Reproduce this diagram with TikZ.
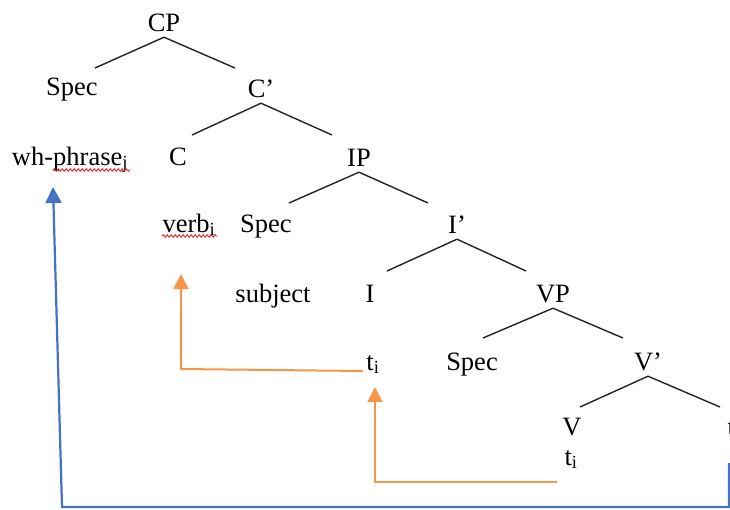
\documentclass[tikz,border=0pt]{standalone}
\usepackage{fontspec}
\setmainfont{Liberation Serif}
\usetikzlibrary{arrows.meta,decorations.pathmorphing}
\definecolor{treegray}{RGB}{35,35,35}
\definecolor{movorange}{RGB}{247,150,70}
\definecolor{movblue}{RGB}{68,114,196}
\definecolor{spellred}{RGB}{230,40,40}
\begin{document}
\begin{tikzpicture}[x=1pt,y=-1pt,
  lbl/.style={anchor=base, inner xsep=0pt, inner ysep=6pt, text depth=0pt,
              font=\fontsize{26.5}{30}\selectfont},
  branch/.style={draw=treegray, line width=1.4pt},
  orangemove/.style={draw=movorange, line width=2pt,
              -{Triangle[length=15pt,width=15pt]}},
  bluemove/.style={draw=movblue, line width=2.2pt,
              -{Triangle[length=16pt,width=16pt]}},
  spell/.style={draw=spellred, line width=0.9pt,
              decorate, decoration={snake, segment length=4pt, amplitude=1.3pt}}]
\useasboundingbox (0,0) rectangle (730,509);

% tree labels
\node[lbl] (CP)    at (164,31)  {CP};
\node[lbl] (SpecC) at (72,95)   {Spec};
\node[lbl] (Cbar)  at (261,97)  {C’};
\node[lbl] (wh)    at (70,165)  {wh-phrase\textsubscript{j}};
\node[lbl] (C)     at (178,165) {C};
\node[lbl] (IP)    at (359,166) {IP};
\node[lbl] (verb)  at (189,232) {verb\textsubscript{i}};
\node[lbl] (SpecI) at (266,232) {Spec};
\node[lbl] (Ibar)  at (457,233) {I’};
\node[lbl] (subj)  at (273,302) {subject};
\node[lbl] (I)     at (370,302) {I};
\node[lbl] (VP)    at (553,302) {VP};
\node[lbl] (ti)    at (373,370) {t\textsubscript{i}};
\node[lbl] (SpecV) at (472,370) {Spec};
\node[lbl] (Vbar)  at (648,370) {V’};
\node[lbl] (V)     at (572,435) {V};
\node[lbl] (tiV)   at (571,465) {t\textsubscript{i}};
\node[lbl, anchor=base west] (tj) at (727.5,435) {t\textsubscript{j}};

% branch ends
\coordinate (cpL) at (95,68);   \coordinate (cpR) at (235,68);
\coordinate (cbL) at (192,135); \coordinate (cbR) at (332,135);
\coordinate (ipL) at (289,203); \coordinate (ipR) at (428,203);
\coordinate (ibL) at (387,271); \coordinate (ibR) at (526,271);
\coordinate (vpL) at (483,338); \coordinate (vpR) at (623,338);
\coordinate (vbL) at (580,407); \coordinate (vbR) at (720,407);

\draw[branch] (cpL) -- (CP.south) -- (cpR);
\draw[branch] (cbL) -- (Cbar.south) -- (cbR);
\draw[branch] (ipL) -- (IP.south) -- (ipR);
\draw[branch] (ibL) -- (Ibar.south) -- (ibR);
\draw[branch] (vpL) -- (VP.south) -- (vpR);
\draw[branch] (vbL) -- (Vbar.south) -- (vbR);

% movement arrows
\coordinate (o1s) at (557,482); \coordinate (o1c) at (375,482);
\coordinate (tip1) at (375,387);
\draw[orangemove] (o1s) -- (o1c) -- (tip1);

\coordinate (o2s) at (363,371); \coordinate (o2c) at (181,369);
\coordinate (tip2) at (181,274);
\draw[orangemove] (o2s) -- (o2c) -- (tip2);

\coordinate (b1) at (729,463); \coordinate (b2) at (729,507);
\coordinate (b3) at (62,507);  \coordinate (tip3) at (53,187);
\draw[bluemove] (b1) -- (b2) -- (b3) -- (tip3);

% spell-check underlines
\coordinate (s1a) at (53,170); \coordinate (s1b) at (130,170);
\draw[spell] (s1a) -- (s1b);
\coordinate (s2a) at (162,236); \coordinate (s2b) at (217,236);
\draw[spell] (s2a) -- (s2b);
\end{tikzpicture}
\end{document}
